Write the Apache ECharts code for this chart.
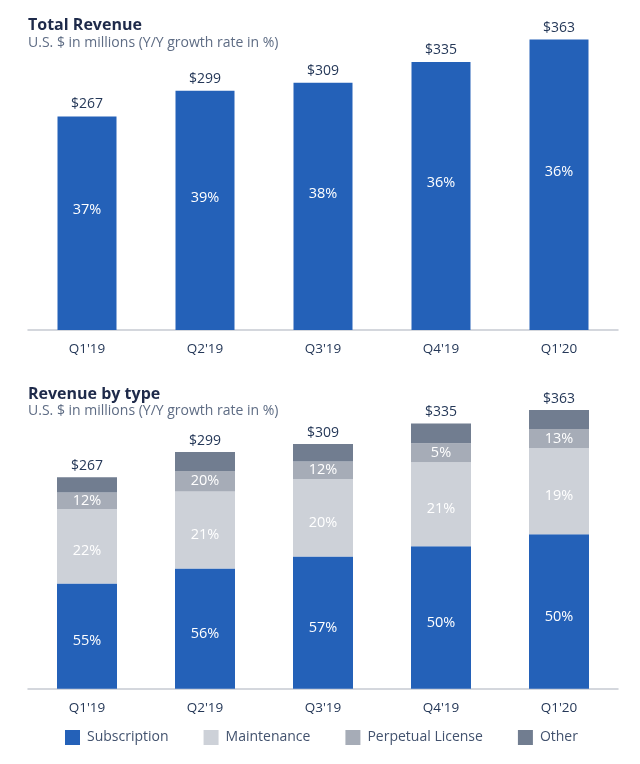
<!DOCTYPE html>
<html>
<head>
<meta charset="utf-8">
<script src="https://cdn.jsdelivr.net/npm/echarts@6/dist/echarts.min.js"></script>
<style>html,body{margin:0;padding:0;background:#fff}#c{width:640px;height:764px}</style>
</head>
<body>
<div id="c"></div>
<script>
const categories = ["Q1'19", "Q2'19", "Q3'19", "Q4'19", "Q1'20"];
const totalRevenue = [267, 299, 309, 335, 363];
const totalGrowth = ["37%", "39%", "38%", "36%", "36%"];
const subscription = [133, 152, 167, 180, 195];
const maintenance = [94, 97, 98, 106, 109];
const perpetual = [21, 26, 22, 24, 24];
const other = [19, 24, 22, 25, 24];
const subscriptionGrowth = ["55%", "56%", "57%", "50%", "50%"];
const maintenanceGrowth = ["22%", "21%", "20%", "21%", "19%"];
const perpetualGrowth = ["12%", "20%", "12%", "5%", "13%"];

const FONT = "Open Sans";
const DARK = "#253858";
const BLUE = "#2461B8";
const C_MAINT = "#CDD1D8";
const C_PERP = "#A6ACB7";
const C_OTHER = "#717D90";

const chart = echarts.init(document.getElementById('c'), null, {renderer: 'canvas'});

function xAx(gi) {
  return {
    type: 'category', gridIndex: gi, data: categories,
    axisLine: {lineStyle: {color: '#C6CAD2', width: 1.5}},
    axisTick: {show: false},
    axisLabel: {color: DARK, fontSize: 13.5, fontFamily: FONT, margin: 12}
  };
}
function yAx(gi) {
  return {type: 'value', gridIndex: gi, min: 0, max: 400, show: false, splitLine: {show: false}};
}
function pctLabel(arr, off) {
  return {show: true, position: 'inside', offset: [0, off], color: '#fff', fontSize: 14.5, fontFamily: FONT,
    formatter: p => arr[p.dataIndex]};
}

chart.setOption({
  animation: false,
  textStyle: {fontFamily: FONT},
  title: [
    {text: 'Total Revenue', subtext: 'U.S. $ in millions (Y/Y growth rate in %)', left: 23, top: 12, itemGap: 3,
      textStyle: {fontSize: 16, fontWeight: 'bold', color: '#1E2A4A', fontFamily: FONT},
      subtextStyle: {fontSize: 14, color: '#5E6C84', fontFamily: FONT}},
    {text: 'Revenue by type', subtext: 'U.S. $ in millions (Y/Y growth rate in %)', left: 23, top: 381, itemGap: 2,
      textStyle: {fontSize: 16, fontWeight: 'bold', color: '#1E2A4A', fontFamily: FONT},
      subtextStyle: {fontSize: 14, color: '#5E6C84', fontFamily: FONT}}
  ],
  legend: {
    left: 60, top: 725, itemWidth: 15, itemHeight: 15, itemGap: 35, icon: 'rect',
    textStyle: {color: '#42526E', fontSize: 14, fontFamily: FONT, padding: [0, 0, 0, 2]},
    data: ['Subscription', 'Maintenance', 'Perpetual License', 'Other']
  },
  grid: [
    {left: 28, right: 22, top: 10, height: 320},
    {left: 28, right: 22, top: 372, height: 316.8}
  ],
  xAxis: [xAx(0), xAx(1)],
  yAxis: [yAx(0), yAx(1)],
  series: [
    {type: 'bar', xAxisIndex: 0, yAxisIndex: 0, data: totalRevenue, barWidth: 59,
      itemStyle: {color: BLUE},
      label: {show: true, position: 'top', distance: 5, color: DARK, fontSize: 14, fontFamily: FONT,
        formatter: p => '$' + totalRevenue[p.dataIndex]}},
    {type: 'bar', xAxisIndex: 0, yAxisIndex: 0, data: totalRevenue, barWidth: 59, barGap: '-100%',
      itemStyle: {color: 'rgba(0,0,0,0)'}, silent: true,
      label: pctLabel(totalGrowth, -13)},
    {name: 'Subscription', type: 'bar', stack: 's', xAxisIndex: 1, yAxisIndex: 1, data: subscription, barWidth: 60,
      itemStyle: {color: BLUE}, label: pctLabel(subscriptionGrowth, 5)},
    {name: 'Maintenance', type: 'bar', stack: 's', xAxisIndex: 1, yAxisIndex: 1, data: maintenance, barWidth: 60,
      itemStyle: {color: C_MAINT}, label: pctLabel(maintenanceGrowth, 5)},
    {name: 'Perpetual License', type: 'bar', stack: 's', xAxisIndex: 1, yAxisIndex: 1, data: perpetual, barWidth: 60,
      itemStyle: {color: C_PERP}, label: pctLabel(perpetualGrowth, 0)},
    {name: 'Other', type: 'bar', stack: 's', xAxisIndex: 1, yAxisIndex: 1, data: other, barWidth: 60,
      itemStyle: {color: C_OTHER},
      label: {show: true, position: 'top', distance: 4, color: DARK, fontSize: 14, fontFamily: FONT,
        formatter: p => '$' + totalRevenue[p.dataIndex]}}
  ]
});
</script>
</body>
</html>
